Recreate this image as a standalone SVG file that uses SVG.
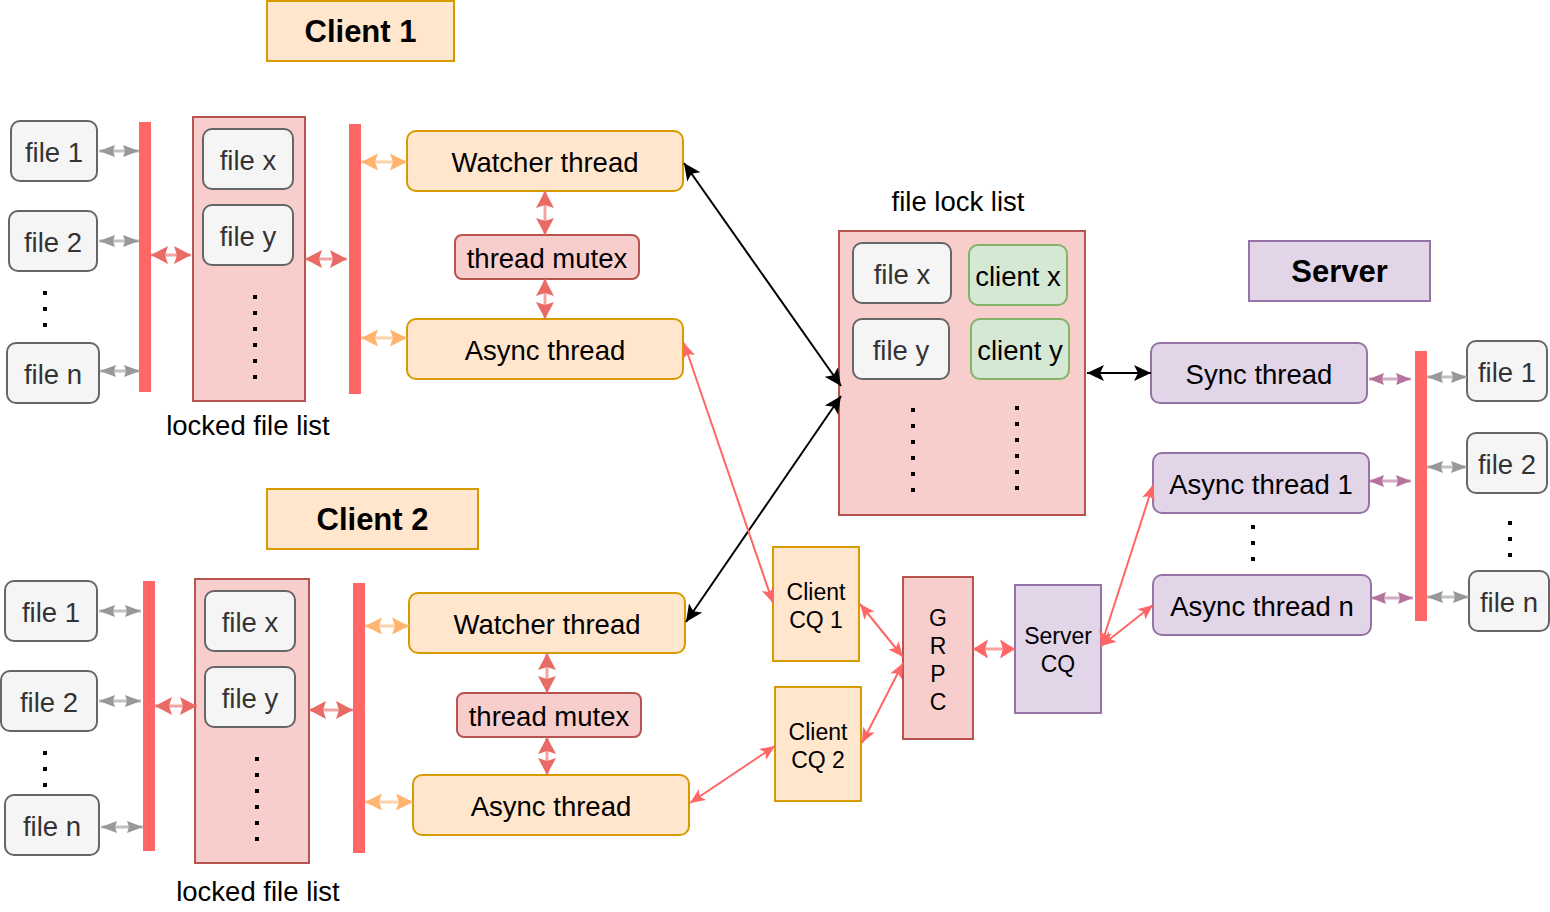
<svg xmlns="http://www.w3.org/2000/svg" width="1550" height="912" viewBox="0 0 1550 912">
<defs>
<style>
text { font-family: "Liberation Sans", Arial, Helvetica, sans-serif; font-size: 27.5px; text-anchor: middle; dominant-baseline: central; fill: #000; }
.file rect { fill: #f5f5f5; stroke: #666666; stroke-width: 2; }
.file text { fill: #333333; }
.org { fill: #ffe6cc; stroke: #d79b00; stroke-width: 2; }
.red { fill: #f8cecc; stroke: #b85450; stroke-width: 2; }
.pur { fill: #e1d5e7; stroke: #9673a6; stroke-width: 2; }
.grn { fill: #d5e8d4; stroke: #82b366; stroke-width: 2; }
.bar { fill: #FF6666; }
.title { font-weight: bold; font-size: 31px; }
.sm { font-size: 23px; }
.dots { stroke: #000; stroke-width: 4; stroke-dasharray: 4 12; fill: none; }
.e { fill: none; }
.eg { stroke: #999999; stroke-width: 3; stroke-opacity: 0.6; marker-start: url(#mG); marker-end: url(#mG); }
.er { stroke: #EA6B66; stroke-width: 3; stroke-opacity: 0.6; marker-start: url(#mR); marker-end: url(#mR); }
.eo { stroke: #FFB570; stroke-width: 3; stroke-opacity: 0.6; marker-start: url(#mO); marker-end: url(#mO); }
.ep { stroke: #B5739D; stroke-width: 3; stroke-opacity: 0.6; marker-start: url(#mP); marker-end: url(#mP); }
.ek { stroke: #000000; stroke-width: 2; marker-start: url(#mK); marker-end: url(#mK); }
.et { stroke: #FF6666; stroke-width: 2; marker-start: url(#mT); marker-end: url(#mT); }
.eb { stroke: #FF6666; stroke-width: 3; stroke-opacity: 0.6; marker-start: url(#mB); marker-end: url(#mB); }
</style>
<marker id="mG" markerUnits="userSpaceOnUse" markerWidth="18" markerHeight="14" refX="16" refY="6" orient="auto-start-reverse" overflow="visible"><path d="M0,0 L16,6 L0,12 L2,6 Z" fill="#999999"/></marker>
<marker id="mR" markerUnits="userSpaceOnUse" markerWidth="18" markerHeight="20" refX="17" refY="9" orient="auto-start-reverse" overflow="visible"><path d="M0,0 L17,9 L0,18 L3,9 Z" fill="#EA6B66"/></marker>
<marker id="mO" markerUnits="userSpaceOnUse" markerWidth="18" markerHeight="18" refX="17" refY="8.5" orient="auto-start-reverse" overflow="visible"><path d="M0,0 L17,8.5 L0,17 L3,8.5 Z" fill="#FFB570"/></marker>
<marker id="mP" markerUnits="userSpaceOnUse" markerWidth="16" markerHeight="14" refX="15" refY="6" orient="auto-start-reverse" overflow="visible"><path d="M0,0 L15,6 L0,12 L2,6 Z" fill="#B5739D"/></marker>
<marker id="mK" markerUnits="userSpaceOnUse" markerWidth="18" markerHeight="18" refX="17" refY="8" orient="auto-start-reverse" overflow="visible"><path d="M0,0 L17,8 L0,16 L4,8 Z" fill="#000000"/></marker>
<marker id="mT" markerUnits="userSpaceOnUse" markerWidth="16" markerHeight="14" refX="15" refY="6.5" orient="auto-start-reverse" overflow="visible"><path d="M0,0 L15,6.5 L0,13 L3.5,6.5 Z" fill="#FF6666"/></marker>
<marker id="mB" markerUnits="userSpaceOnUse" markerWidth="16" markerHeight="20" refX="15" refY="9.5" orient="auto-start-reverse" overflow="visible"><path d="M0,0 L15,9.5 L0,19 L3,9.5 Z" fill="#FF6666"/></marker>
</defs>

<!-- Client 1 -->
<g id="client1-title"><rect class="org" x="267" y="1" width="187" height="60"/><text class="title" x="360.5" y="31">Client 1</text></g>
<g id="c1-file1" class="file"><rect x="11" y="121" width="86" height="60" rx="9"/><text x="54" y="152">file 1</text></g>
<g id="c1-file2" class="file"><rect x="9" y="211" width="88" height="60" rx="9"/><text x="53" y="242">file 2</text></g>
<g id="c1-dots"><line class="dots" x1="45" y1="291" x2="45" y2="327"/></g>
<g id="c1-filen" class="file"><rect x="7" y="343" width="92" height="60" rx="9"/><text x="53" y="374">file n</text></g>
<g id="c1-bar1"><rect class="bar" x="139" y="122" width="12" height="270"/></g>
<g id="c1-locked">
<rect class="red" x="193" y="117" width="112" height="284"/>
<g class="file"><rect x="203" y="129" width="90" height="60" rx="9"/><text x="248" y="160">file x</text></g>
<g class="file"><rect x="203" y="205" width="90" height="60" rx="9"/><text x="248" y="236">file y</text></g>
<line class="dots" x1="255" y1="295" x2="255" y2="379"/>
<text x="248" y="425">locked file list</text>
</g>
<g id="c1-bar2"><rect class="bar" x="349" y="124" width="12" height="270"/></g>
<g id="c1-watcher"><rect class="org" x="407" y="131" width="276" height="60" rx="9"/><text x="545" y="162">Watcher thread</text></g>
<g id="c1-mutex"><rect class="red" x="455" y="235" width="184" height="44" rx="7"/><text x="547" y="258">thread mutex</text></g>
<g id="c1-async"><rect class="org" x="407" y="319" width="276" height="60" rx="9"/><text x="545" y="350">Async thread</text></g>

<!-- Client 2 -->
<g id="client2-title"><rect class="org" x="267" y="489" width="211" height="60"/><text class="title" x="372.5" y="519">Client 2</text></g>
<g id="c2-file1" class="file"><rect x="5" y="581" width="92" height="60" rx="9"/><text x="51" y="612">file 1</text></g>
<g id="c2-file2" class="file"><rect x="1" y="671" width="96" height="60" rx="9"/><text x="49" y="702">file 2</text></g>
<g id="c2-dots"><line class="dots" x1="45" y1="751" x2="45" y2="787"/></g>
<g id="c2-filen" class="file"><rect x="5" y="795" width="94" height="60" rx="9"/><text x="52" y="826">file n</text></g>
<g id="c2-bar1"><rect class="bar" x="143" y="581" width="12" height="270"/></g>
<g id="c2-locked">
<rect class="red" x="195" y="579" width="114" height="284"/>
<g class="file"><rect x="205" y="591" width="90" height="60" rx="9"/><text x="250" y="622">file x</text></g>
<g class="file"><rect x="205" y="667" width="90" height="60" rx="9"/><text x="250" y="698">file y</text></g>
<line class="dots" x1="257" y1="757" x2="257" y2="841"/>
<text x="258" y="891">locked file list</text>
</g>
<g id="c2-bar2"><rect class="bar" x="353" y="583" width="12" height="270"/></g>
<g id="c2-watcher"><rect class="org" x="409" y="593" width="276" height="60" rx="9"/><text x="547" y="624">Watcher thread</text></g>
<g id="c2-mutex"><rect class="red" x="457" y="693" width="184" height="44" rx="7"/><text x="549" y="716">thread mutex</text></g>
<g id="c2-async"><rect class="org" x="413" y="775" width="276" height="60" rx="9"/><text x="551" y="806">Async thread</text></g>

<!-- File lock list -->
<g id="file-lock-list">
<text x="958" y="201">file lock list</text>
<rect class="red" x="839" y="231" width="246" height="284"/>
<g class="file"><rect x="853" y="243" width="98" height="60" rx="9"/><text x="902" y="274">file x</text></g>
<g><rect class="grn" x="969" y="245" width="98" height="60" rx="9"/><text x="1018" y="276">client x</text></g>
<g class="file"><rect x="853" y="319" width="96" height="60" rx="9"/><text x="901" y="350">file y</text></g>
<g><rect class="grn" x="971" y="319" width="98" height="60" rx="9"/><text x="1020" y="350">client y</text></g>
<line class="dots" x1="913" y1="408" x2="913" y2="492"/>
<line class="dots" x1="1017" y1="406" x2="1017" y2="490"/>
</g>

<!-- Queues -->
<g id="client-cq1"><rect class="org" x="773" y="547" width="86" height="114"/><text class="sm" x="816" y="592">Client</text><text class="sm" x="816" y="620">CQ 1</text></g>
<g id="client-cq2"><rect class="org" x="775" y="687" width="86" height="114"/><text class="sm" x="818" y="732">Client</text><text class="sm" x="818" y="760">CQ 2</text></g>
<g id="grpc"><rect class="red" x="903" y="577" width="70" height="162"/><text class="sm" x="938" y="618">G</text><text class="sm" x="938" y="646">R</text><text class="sm" x="938" y="674">P</text><text class="sm" x="938" y="702">C</text></g>
<g id="server-cq"><rect class="pur" x="1015" y="585" width="86" height="128"/><text class="sm" x="1058" y="636">Server</text><text class="sm" x="1058" y="664">CQ</text></g>

<!-- Server -->
<g id="server-title"><rect class="pur" x="1249" y="241" width="181" height="60"/><text class="title" x="1339.5" y="271">Server</text></g>
<g id="s-sync"><rect class="pur" x="1151" y="343" width="216" height="60" rx="9"/><text x="1259" y="374">Sync thread</text></g>
<g id="s-async1"><rect class="pur" x="1153" y="453" width="216" height="60" rx="9"/><text x="1261" y="484">Async thread 1</text></g>
<g id="s-dots"><line class="dots" x1="1253" y1="525" x2="1253" y2="561"/></g>
<g id="s-asyncn"><rect class="pur" x="1153" y="575" width="218" height="60" rx="9"/><text x="1262" y="606">Async thread n</text></g>
<g id="s-bar"><rect class="bar" x="1415" y="351" width="12" height="270"/></g>
<g id="s-file1" class="file"><rect x="1467" y="341" width="80" height="60" rx="9"/><text x="1507" y="372">file 1</text></g>
<g id="s-file2" class="file"><rect x="1467" y="433" width="80" height="60" rx="9"/><text x="1507" y="464">file 2</text></g>
<g id="s-fdots"><line class="dots" x1="1510" y1="521" x2="1510" y2="557"/></g>
<g id="s-filen" class="file"><rect x="1469" y="571" width="80" height="60" rx="9"/><text x="1509" y="602">file n</text></g>

<!-- Connectors -->
<g id="connectors" class="e">
<line class="eg" x1="99" y1="151" x2="139" y2="151"/>
<line class="eg" x1="99" y1="241" x2="139" y2="241"/>
<line class="eg" x1="100" y1="371" x2="140" y2="371"/>
<line class="er" x1="151" y1="255" x2="191" y2="255"/>
<line class="er" x1="305" y1="259" x2="347" y2="259"/>
<line class="eo" x1="361" y1="162" x2="407" y2="162"/>
<line class="eo" x1="361" y1="338" x2="407" y2="338"/>
<line class="er" x1="545" y1="191" x2="545" y2="235"/>
<line class="er" x1="545" y1="279" x2="545" y2="319"/>

<line class="eg" x1="99" y1="611" x2="141" y2="611"/>
<line class="eg" x1="99" y1="701" x2="141" y2="701"/>
<line class="eg" x1="101" y1="827" x2="143" y2="827"/>
<line class="er" x1="155" y1="706" x2="197" y2="706"/>
<line class="er" x1="309" y1="710" x2="353" y2="710"/>
<line class="eo" x1="365" y1="626" x2="409" y2="626"/>
<line class="eo" x1="365" y1="802" x2="413" y2="802"/>
<line class="er" x1="547" y1="653" x2="547" y2="693"/>
<line class="er" x1="547" y1="737" x2="547" y2="775"/>

<line class="ek" x1="684" y1="163" x2="841" y2="386"/>
<line class="ek" x1="686" y1="622" x2="841" y2="396"/>
<line class="ek" x1="1087" y1="373" x2="1151" y2="373"/>

<line class="et" x1="684" y1="343" x2="773" y2="603"/>
<line class="et" x1="690" y1="803" x2="775" y2="746"/>
<line class="et" x1="860" y1="604" x2="903" y2="657"/>
<line class="et" x1="862" y1="743" x2="903" y2="663"/>
<line class="eb" x1="973" y1="649" x2="1015" y2="649"/>
<line class="et" x1="1101" y1="646" x2="1153" y2="485"/>
<line class="et" x1="1101" y1="646" x2="1153" y2="605"/>

<line class="ep" x1="1369" y1="379" x2="1411" y2="379"/>
<line class="ep" x1="1369" y1="481" x2="1411" y2="481"/>
<line class="ep" x1="1371" y1="598" x2="1413" y2="598"/>
<line class="eg" x1="1427" y1="377" x2="1467" y2="377"/>
<line class="eg" x1="1427" y1="467" x2="1467" y2="467"/>
<line class="eg" x1="1427" y1="597" x2="1469" y2="597"/>
</g>
</svg>
